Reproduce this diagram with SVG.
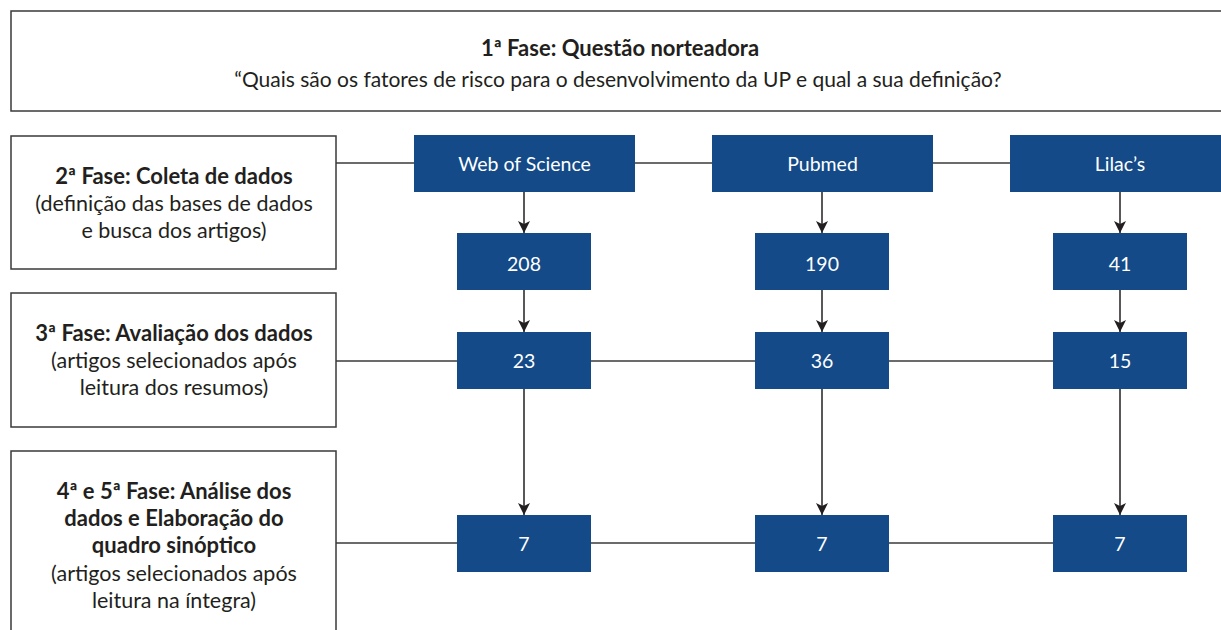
<svg xmlns="http://www.w3.org/2000/svg" width="1221" height="630" viewBox="0 0 1221 630">
<style>
  .phase { fill: #ffffff; stroke: #3a3a3a; stroke-width: 1.5; }
  .blue { fill: #134a87; }
  .t { font-family: Lato, "Liberation Sans", sans-serif; fill: #231f20; text-anchor: middle; }
  .lt { font-size: 21.5px; }
  .b { font-weight: bold; font-size: 22px; }
  .w { font-family: Lato, "Liberation Sans", sans-serif; fill: #ffffff; font-size: 19.5px; text-anchor: middle; }
  .ln { stroke: #3a3a3a; stroke-width: 1.5; fill: none; }
  .ar { stroke: #231f20; stroke-width: 1.5; fill: none; marker-end: url(#ah); }
</style>
<defs>
  <marker id="ah" viewBox="0 0 12 16" refX="12" refY="6" markerWidth="12" markerHeight="16" markerUnits="userSpaceOnUse" orient="auto">
    <path d="M0,0 L12,6 L0,12 L3,6 Z" fill="#231f20"/>
  </marker>
</defs>
<rect width="1221" height="630" fill="#ffffff"/>

<g id="connectors">
  <line class="ln" x1="336" y1="163" x2="414" y2="163"/>
  <line class="ln" x1="635" y1="163" x2="712" y2="163"/>
  <line class="ln" x1="933" y1="163" x2="1010" y2="163"/>
  <line class="ln" x1="336" y1="361" x2="457" y2="361"/>
  <line class="ln" x1="591" y1="361" x2="755" y2="361"/>
  <line class="ln" x1="889" y1="361" x2="1053" y2="361"/>
  <line class="ln" x1="336" y1="543" x2="457" y2="543"/>
  <line class="ln" x1="591" y1="543" x2="755" y2="543"/>
  <line class="ln" x1="889" y1="543" x2="1053" y2="543"/>
  <line class="ar" x1="524" y1="192" x2="524" y2="233"/>
  <line class="ar" x1="822" y1="192" x2="822" y2="233"/>
  <line class="ar" x1="1120" y1="192" x2="1120" y2="233"/>
  <line class="ar" x1="524" y1="290" x2="524" y2="332"/>
  <line class="ar" x1="822" y1="290" x2="822" y2="332"/>
  <line class="ar" x1="1120" y1="290" x2="1120" y2="332"/>
  <line class="ar" x1="524" y1="389" x2="524" y2="515"/>
  <line class="ar" x1="822" y1="389" x2="822" y2="515"/>
  <line class="ar" x1="1120" y1="389" x2="1120" y2="515"/>
</g>

<g id="phase1">
  <rect class="phase" x="11" y="11" width="1230" height="100"/>
  <text class="t b" x="620" y="56">1ª Fase: Questão norteadora</text>
  <text class="t" x="618" y="87" font-size="21">“Quais são os fatores de risco para o desenvolvimento da UP e qual a sua definição?</text>
</g>

<g id="phase2">
  <rect class="phase" x="11" y="136" width="325" height="133"/>
  <text class="t b" x="174" y="184">2ª Fase: Coleta de dados</text>
  <text class="t lt" x="174" y="211">(definição das bases de dados</text>
  <text class="t lt" x="174" y="238">e busca dos artigos)</text>
</g>

<g id="phase3">
  <rect class="phase" x="11" y="293" width="325" height="134"/>
  <text class="t b" x="174" y="341">3ª Fase: Avaliação dos dados</text>
  <text class="t lt" x="174" y="368">(artigos selecionados após</text>
  <text class="t lt" x="174" y="395">leitura dos resumos)</text>
</g>

<g id="phase4">
  <rect class="phase" x="11" y="451" width="325" height="200"/>
  <text class="t b" x="174" y="499">4ª e 5ª Fase: Análise dos</text>
  <text class="t b" x="174" y="526">dados e Elaboração do</text>
  <text class="t b" x="174" y="553">quadro sinóptico</text>
  <text class="t lt" x="174" y="581">(artigos selecionados após</text>
  <text class="t lt" x="174" y="608">leitura na íntegra)</text>
</g>

<g id="web-of-science"><rect class="blue" x="414" y="135" width="221" height="57"/><text class="w" x="524.5" y="171">Web of Science</text></g>
<g id="pubmed"><rect class="blue" x="712" y="135" width="221" height="57"/><text class="w" x="822.5" y="171">Pubmed</text></g>
<g id="lilacs"><rect class="blue" x="1010" y="135" width="230" height="57"/><text class="w" x="1120" y="171">Lilac’s</text></g>

<g id="wos-208"><rect class="blue" x="457" y="233" width="134" height="57"/><text class="w" x="524" y="271">208</text></g>
<g id="pub-190"><rect class="blue" x="755" y="233" width="134" height="57"/><text class="w" x="822" y="271">190</text></g>
<g id="lil-41"><rect class="blue" x="1053" y="233" width="134" height="57"/><text class="w" x="1120" y="271">41</text></g>

<g id="wos-23"><rect class="blue" x="457" y="332" width="134" height="57"/><text class="w" x="524" y="368">23</text></g>
<g id="pub-36"><rect class="blue" x="755" y="332" width="134" height="57"/><text class="w" x="822" y="368">36</text></g>
<g id="lil-15"><rect class="blue" x="1053" y="332" width="134" height="57"/><text class="w" x="1120" y="368">15</text></g>

<g id="wos-7"><rect class="blue" x="457" y="515" width="134" height="57"/><text class="w" x="524" y="551">7</text></g>
<g id="pub-7"><rect class="blue" x="755" y="515" width="134" height="57"/><text class="w" x="822" y="551">7</text></g>
<g id="lil-7"><rect class="blue" x="1053" y="515" width="134" height="57"/><text class="w" x="1120" y="551">7</text></g>
</svg>
